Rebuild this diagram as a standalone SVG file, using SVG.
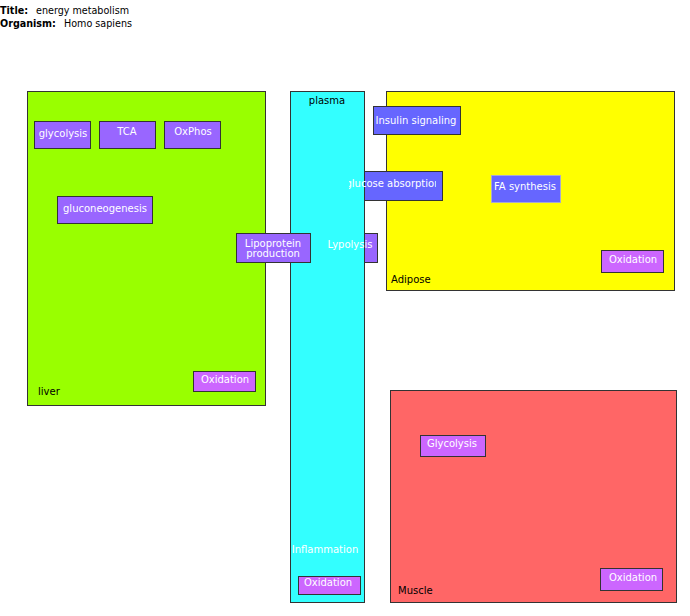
<svg xmlns="http://www.w3.org/2000/svg" width="690" height="616" viewBox="0 0 690 616">
<style>
text{font-family:"DejaVu Sans","Liberation Sans",sans-serif;font-size:10px}
.hdr{font-weight:bold;fill:#000;font-size:9.6px}
.lbl{fill:#000}
.ttl{fill:#000;font-size:9.6px}
.nt{fill:#fff;text-anchor:middle}
.comp{stroke:#333;stroke-width:1}
.pw{fill:#9966ff;stroke:#333;stroke-width:1}
.ox{fill:#cc66ff;stroke:#333;stroke-width:1}
.bl{fill:#6666ff;stroke:#333;stroke-width:1}
</style>
<defs>
<clipPath id="cg"><rect x="59" y="196" width="89" height="28"/></clipPath>
<clipPath id="ca"><rect x="349" y="171" width="87" height="29"/></clipPath>
</defs>
<text class="hdr" x="0" y="14">Title:</text><text class="ttl" x="36" y="14">energy metabolism</text>
<text class="hdr" x="0" y="27">Organism:</text><text class="ttl" x="64" y="27">Homo sapiens</text>

<g id="liver"><rect class="comp" x="27.5" y="91.5" width="238" height="314" fill="#99ff00"/><text class="lbl" x="38" y="395">liver</text></g>
<g id="adipose"><rect class="comp" x="386.5" y="91.5" width="288" height="199" fill="#ffff00"/><text class="lbl" x="391" y="283">Adipose</text></g>
<g id="muscle"><rect class="comp" x="390.5" y="390.5" width="286" height="212" fill="#ff6666"/><text class="lbl" x="398" y="594">Muscle</text></g>

<g id="lypolysis-box"><rect class="pw" x="324.5" y="233.5" width="53" height="29"/></g>
<g id="glucose-absorption-box"><rect class="bl" x="345.5" y="171.5" width="97" height="29"/></g>

<g id="plasma"><rect class="comp" x="290.5" y="91.5" width="74" height="511" fill="#33ffff"/><text class="lbl" x="327" y="104" text-anchor="middle">plasma</text></g>

<g id="glycolysis"><rect class="pw" x="34.5" y="121.5" width="56" height="27"/><text class="nt" x="63" y="137">glycolysis</text></g>
<g id="tca"><rect class="pw" x="99.5" y="121.5" width="56" height="27"/><text class="nt" x="127" y="135">TCA</text></g>
<g id="oxphos"><rect class="pw" x="164.5" y="121.5" width="56" height="27"/><text class="nt" x="193" y="135">OxPhos</text></g>
<g id="gluconeogenesis"><rect class="pw" x="57.5" y="196.5" width="95" height="27"/><text x="63" y="212" clip-path="url(#cg)" fill="#fff">gluconeogenesis</text></g>
<g id="oxidation-liver"><rect class="ox" x="193.5" y="371.5" width="62" height="20"/><text class="nt" x="225" y="383">Oxidation</text></g>

<g id="lipoprotein"><rect class="pw" x="236.5" y="233.5" width="74" height="29"/><text class="nt" x="273" y="247">Lipoprotein</text><text class="nt" x="273" y="257">production</text></g>
<g id="lypolysis"><text class="nt" x="350" y="248">Lypolysis</text></g>
<g id="glucose-absorption"><text class="nt" x="393" y="187" clip-path="url(#ca)">glucose absorption</text></g>
<g id="insulin-signaling"><rect class="bl" x="373.5" y="106.5" width="87" height="28"/><text class="nt" x="416" y="124">Insulin signaling</text></g>
<g id="fa-synthesis"><rect x="491.5" y="175.5" width="69" height="27" fill="#6666ff" stroke="#aaaacc"/><text class="nt" x="525" y="190">FA synthesis</text></g>
<g id="oxidation-adipose"><rect class="ox" x="601.5" y="250.5" width="62" height="22"/><text class="nt" x="633" y="263">Oxidation</text></g>
<g id="inflammation"><text class="nt" x="325" y="553">Inflammation</text></g>
<g id="oxidation-plasma"><rect class="ox" x="298.5" y="576.5" width="62" height="18"/><text class="nt" x="328" y="586">Oxidation</text></g>
<g id="glycolysis-muscle"><rect class="ox" x="420.5" y="435.5" width="65" height="21"/><text class="nt" x="452" y="447">Glycolysis</text></g>
<g id="oxidation-muscle"><rect class="ox" x="600.5" y="568.5" width="62" height="22"/><text class="nt" x="633" y="581">Oxidation</text></g>
<g id="connectors"></g>
</svg>
